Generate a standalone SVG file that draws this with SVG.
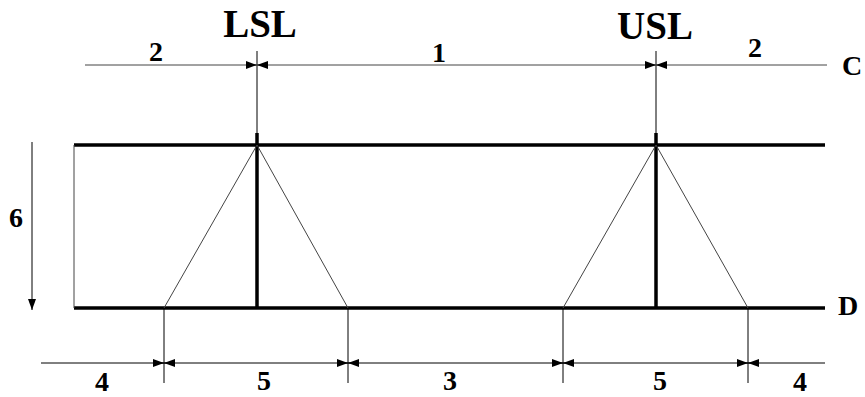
<svg xmlns="http://www.w3.org/2000/svg" width="865" height="397" viewBox="0 0 865 397">
<style>
.thin{stroke:#000;stroke-width:1;fill:none}
.gray{stroke:#444;stroke-width:1;fill:none}
.thick{stroke:#000;stroke-width:3.5;fill:none}
.lbl{font-family:"Liberation Serif",serif;font-weight:bold;fill:#000;text-anchor:middle}
.num{font-size:28px}
.big{font-size:39px}
</style>
<defs>
<marker id="ah" viewBox="0 0 11 8" refX="11" refY="4" markerWidth="11" markerHeight="8" markerUnits="userSpaceOnUse" orient="auto">
<path d="M0,0 L11,4 L0,8 Z" fill="#000"/>
</marker>
</defs>
<g id="frame">
<line class="thick" x1="74" y1="145" x2="825" y2="145"/>
<line class="thick" x1="74" y1="308" x2="825" y2="308"/>
<line class="gray" x1="74" y1="145" x2="74" y2="308"/>
</g>
<g id="lsl">
<line class="thin" x1="257" y1="51" x2="257" y2="133"/>
<line class="thick" x1="257" y1="133" x2="257" y2="308"/>
<polyline class="gray" points="164,308 257,145 348,308"/>
<text class="lbl big" x="260" y="37">LSL</text>
</g>
<g id="usl">
<line class="thin" x1="656" y1="51" x2="656" y2="133"/>
<line class="thick" x1="656" y1="133" x2="656" y2="308"/>
<polyline class="gray" points="563,308 656,145 748,308"/>
<text class="lbl big" x="655" y="39">USL</text>
</g>
<g id="connectors">
<line class="gray" x1="85" y1="65" x2="827" y2="65"/>
<line class="gray" x1="246" y1="65" x2="257" y2="65" marker-end="url(#ah)"/>
<line class="gray" x1="268" y1="65" x2="257" y2="65" marker-end="url(#ah)"/>
<line class="gray" x1="645" y1="65" x2="656" y2="65" marker-end="url(#ah)"/>
<line class="gray" x1="667" y1="65" x2="656" y2="65" marker-end="url(#ah)"/>
<line class="thin" x1="32" y1="142" x2="32" y2="310" marker-end="url(#ah)"/>
<line class="thin" x1="41" y1="363" x2="825" y2="363"/>
<line class="thin" x1="164" y1="308" x2="164" y2="383"/>
<line class="thin" x1="348" y1="308" x2="348" y2="383"/>
<line class="thin" x1="563" y1="308" x2="563" y2="383"/>
<line class="thin" x1="748" y1="308" x2="748" y2="383"/>
<line class="thin" x1="153" y1="363" x2="164" y2="363" marker-end="url(#ah)"/>
<line class="thin" x1="175" y1="363" x2="164" y2="363" marker-end="url(#ah)"/>
<line class="thin" x1="337" y1="363" x2="348" y2="363" marker-end="url(#ah)"/>
<line class="thin" x1="359" y1="363" x2="348" y2="363" marker-end="url(#ah)"/>
<line class="thin" x1="552" y1="363" x2="563" y2="363" marker-end="url(#ah)"/>
<line class="thin" x1="574" y1="363" x2="563" y2="363" marker-end="url(#ah)"/>
<line class="thin" x1="737" y1="363" x2="748" y2="363" marker-end="url(#ah)"/>
<line class="thin" x1="759" y1="363" x2="748" y2="363" marker-end="url(#ah)"/>
</g>
<g id="labels">
<text class="lbl num" x="156" y="61">2</text>
<text class="lbl num" x="439" y="62">1</text>
<text class="lbl num" x="755" y="57">2</text>
<text class="lbl num" x="852" y="75">C</text>
<text class="lbl num" x="848" y="315">D</text>
<text class="lbl num" x="16" y="227">6</text>
<text class="lbl num" x="102" y="391">4</text>
<text class="lbl num" x="264" y="390">5</text>
<text class="lbl num" x="450" y="390">3</text>
<text class="lbl num" x="660" y="390">5</text>
<text class="lbl num" x="800" y="391">4</text>
</g>
</svg>
